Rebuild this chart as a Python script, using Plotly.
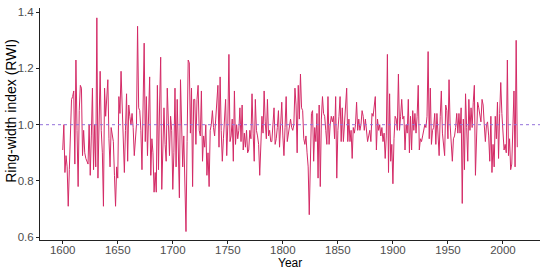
import plotly.graph_objects as go

# ring-width index, one value per year 1600-2013
rwi_1600s = [0.91, 1.00, 0.83, 0.89, 0.85, 0.71, 0.84, 0.97, 1.09, 1.10]
rwi_1610s = [1.12, 0.86, 1.23, 0.98, 0.78, 1.05, 1.14, 1.13, 0.89, 0.98]
rwi_1620s = [0.90, 0.88, 0.87, 0.86, 1.00, 0.82, 0.96, 1.13, 0.84, 1.00]
rwi_1630s = [0.85, 1.38, 0.81, 1.02, 1.19, 0.98, 0.90, 0.71, 1.13, 1.03]
rwi_1640s = [1.12, 1.16, 0.95, 0.85, 0.99, 0.96, 0.94, 0.82, 0.71, 0.85]
rwi_1650s = [0.81, 1.10, 1.04, 1.19, 1.08, 0.94, 0.83, 0.98, 1.11, 0.87]
rwi_1660s = [1.07, 1.03, 1.00, 1.04, 0.99, 0.89, 0.95, 1.00, 1.35, 1.06]
rwi_1670s = [1.05, 0.98, 0.84, 1.16, 1.29, 0.94, 1.10, 0.89, 1.02, 1.17]
rwi_1680s = [0.82, 0.95, 0.90, 0.76, 0.83, 0.76, 1.14, 0.84, 1.07, 1.24]
rwi_1690s = [0.77, 0.99, 1.06, 0.93, 0.87, 1.13, 0.97, 0.89, 1.03, 0.98]
rwi_1700s = [0.77, 0.90, 1.13, 0.85, 1.09, 0.93, 0.74, 1.16, 0.96, 0.85]
rwi_1710s = [0.96, 0.80, 0.62, 0.94, 1.23, 1.22, 0.97, 1.13, 0.78, 1.09]
rwi_1720s = [1.09, 0.93, 1.09, 1.14, 0.98, 0.96, 1.12, 0.87, 0.96, 0.92]
rwi_1730s = [1.00, 0.82, 0.90, 0.78, 0.98, 1.00, 1.05, 0.99, 0.96, 1.02]
rwi_1740s = [1.08, 1.14, 0.92, 1.17, 0.98, 0.87, 0.95, 1.02, 1.09, 0.89]
rwi_1750s = [1.00, 1.25, 0.94, 0.96, 1.02, 0.87, 1.12, 0.93, 1.00, 0.95]
rwi_1760s = [0.98, 1.06, 0.94, 1.07, 0.91, 0.97, 0.92, 0.98, 0.90, 0.91]
rwi_1770s = [0.98, 0.95, 1.11, 0.97, 0.87, 1.09, 0.98, 0.96, 0.93, 0.82]
rwi_1780s = [0.92, 1.03, 0.97, 1.12, 1.01, 0.95, 1.09, 0.96, 0.98, 0.94]
rwi_1790s = [0.94, 0.99, 1.06, 0.93, 0.95, 0.99, 1.05, 0.92, 1.00, 1.08]
rwi_1800s = [0.96, 0.89, 0.99, 1.10, 0.94, 0.97, 1.00, 1.02, 0.99, 0.98]
rwi_1810s = [1.00, 1.13, 1.07, 0.90, 1.14, 1.02, 1.18, 1.06, 1.05, 0.95]
rwi_1820s = [0.93, 0.96, 0.90, 0.85, 0.68, 0.93, 1.04, 1.05, 0.87, 0.99]
rwi_1830s = [0.94, 1.04, 0.81, 1.07, 0.78, 1.02, 1.10, 1.04, 1.03, 0.98]
rwi_1840s = [0.93, 1.10, 0.93, 1.00, 1.03, 1.01, 1.03, 0.95, 1.10, 0.81]
rwi_1850s = [0.98, 1.03, 1.10, 0.94, 1.06, 0.94, 1.00, 1.06, 1.13, 0.94]
rwi_1860s = [1.02, 0.94, 0.98, 0.88, 0.99, 0.97, 1.00, 1.08, 0.98, 1.02]
rwi_1870s = [0.98, 1.00, 1.05, 1.03, 0.98, 1.02, 0.97, 0.94, 0.96, 0.98]
rwi_1880s = [0.94, 1.04, 1.03, 1.08, 1.10, 0.91, 1.02, 0.98, 1.00, 0.96]
rwi_1890s = [0.99, 0.94, 0.97, 0.88, 0.96, 1.25, 0.83, 1.11, 0.87, 0.93]
rwi_1900s = [0.79, 0.95, 1.03, 1.02, 0.98, 1.18, 0.98, 1.03, 1.09, 1.02]
rwi_1910s = [1.03, 0.91, 1.00, 0.97, 1.09, 0.90, 1.03, 0.91, 1.05, 0.98]
rwi_1920s = [1.04, 0.97, 1.03, 1.14, 0.91, 0.95, 0.94, 0.96, 0.99, 1.00]
rwi_1930s = [0.99, 1.03, 1.26, 0.95, 1.13, 0.93, 0.98, 0.99, 1.04, 0.93]
rwi_1940s = [1.04, 0.96, 0.89, 1.03, 1.12, 0.97, 0.94, 0.89, 1.07, 1.05]
rwi_1950s = [0.95, 1.16, 1.00, 0.93, 0.87, 0.95, 0.96, 0.99, 1.04, 0.97]
rwi_1960s = [1.04, 0.97, 1.06, 0.72, 1.02, 0.84, 1.11, 0.99, 0.87, 1.09]
rwi_1970s = [0.98, 1.06, 0.99, 1.08, 1.14, 0.82, 1.00, 1.08, 1.06, 1.03]
rwi_1980s = [1.01, 1.09, 1.07, 1.00, 0.94, 1.00, 1.01, 0.96, 0.87, 1.03]
rwi_1990s = [0.83, 0.93, 0.85, 1.03, 0.95, 1.08, 0.88, 1.04, 1.15, 1.04]
rwi_2000s = [0.95, 0.91, 0.93, 0.90, 1.23, 0.89, 0.95, 0.84, 0.86, 1.00]
rwi_2010s = [1.12, 0.85, 1.30, 0.92]

rwi = (rwi_1600s + rwi_1610s + rwi_1620s + rwi_1630s + rwi_1640s + rwi_1650s
       + rwi_1660s + rwi_1670s + rwi_1680s + rwi_1690s + rwi_1700s + rwi_1710s
       + rwi_1720s + rwi_1730s + rwi_1740s + rwi_1750s + rwi_1760s + rwi_1770s
       + rwi_1780s + rwi_1790s + rwi_1800s + rwi_1810s + rwi_1820s + rwi_1830s
       + rwi_1840s + rwi_1850s + rwi_1860s + rwi_1870s + rwi_1880s + rwi_1890s
       + rwi_1900s + rwi_1910s + rwi_1920s + rwi_1930s + rwi_1940s + rwi_1950s
       + rwi_1960s + rwi_1970s + rwi_1980s + rwi_1990s + rwi_2000s + rwi_2010s)
years = list(range(1600, 1600 + len(rwi)))

x_ticks = [1600, 1650, 1700, 1750, 1800, 1850, 1900, 1950, 2000]
y_ticks = [0.6, 0.8, 1.0, 1.2, 1.4]

fig = go.Figure()
fig.add_trace(go.Scatter(x=years, y=rwi, mode='lines',
                         line=dict(color='#D42A66', width=1), showlegend=False))
fig.add_hline(y=1.0, line=dict(color='#9370DB', dash='dot', width=1))

# axis titles as annotations so they sit exactly where the reference has them
fig.add_annotation(text='Year', xref='paper', yref='paper', x=0.5, y=-0.099,
                   xanchor='center', yanchor='middle', showarrow=False,
                   font=dict(size=12, color='black'))
fig.add_annotation(text='Ring-width index (RWI)', xref='paper', yref='paper',
                   x=-0.057, y=0.555, textangle=-90, xanchor='center', yanchor='middle',
                   showarrow=False, font=dict(size=14, color='black'))

fig.update_layout(
    width=550, height=273,
    margin=dict(l=40, r=10, t=8, b=33),
    plot_bgcolor='white', paper_bgcolor='white',
    font=dict(family='Liberation Sans, Arial, sans-serif', color='black'),
    xaxis=dict(range=[1579.35, 2033.65], tickvals=x_ticks, automargin=False,
               showline=True, linecolor='#222222', linewidth=1,
               ticks='outside', ticklen=3, tickcolor='#222222',
               showgrid=False, zeroline=False, ticklabelstandoff=-4,
               tickfont=dict(size=11.5, color='#4D4D4D')),
    yaxis=dict(range=[0.59, 1.415], tickvals=y_ticks, tickformat='.1f',
               automargin=False, ticklabeloverflow='allow',
               showline=True, linecolor='#222222', linewidth=1,
               ticks='outside', ticklen=3, tickcolor='#222222',
               showgrid=False, zeroline=False,
               tickfont=dict(size=11.5, color='#4D4D4D')),
)

# drop the default 8px body margin so the figure fills the window exactly
fig.write_html("out.html", config={'displayModeBar': False},
               post_script="document.body.style.margin='0';")
